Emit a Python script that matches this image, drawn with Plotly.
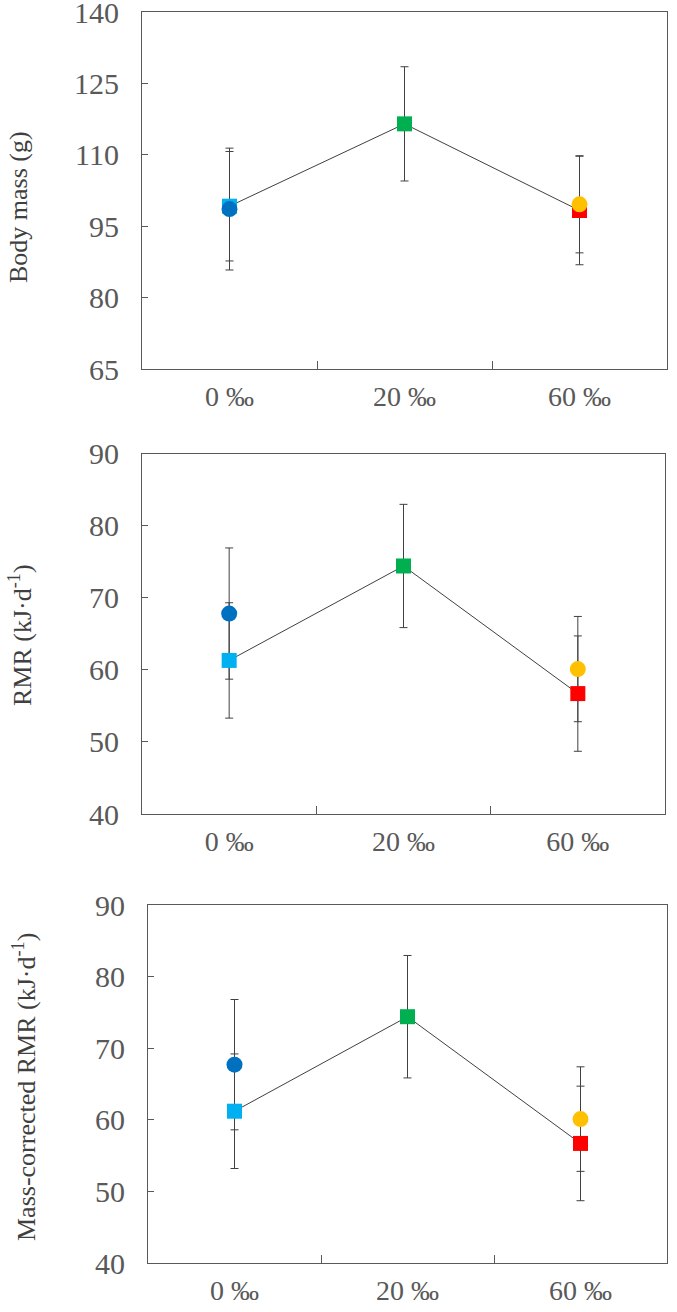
import plotly.graph_objects as go

groups = ["0 ‰", "20 ‰", "60 ‰"]
circle_groups = ["0 ‰", "60 ‰"]

# Panel 1: Body mass (g)
bm_sq_mean = [99.2, 116.5, 98.3]
bm_sq_err = [11.5, 12.0, 11.4]
bm_ci_mean = [98.6, 99.6]
bm_ci_err = [12.8, 10.2]

# Panel 2: RMR (kJ·d-1)
rmr_sq_mean = [61.3, 74.4, 56.7]
rmr_sq_err = [8.0, 8.55, 8.0]
rmr_ci_mean = [67.8, 60.1]
rmr_ci_err = [9.1, 7.3]

# Panel 3: Mass-corrected RMR (kJ·d-1)
mc_sq_mean = [61.2, 74.4, 56.7]
mc_sq_err = [8.0, 8.55, 8.0]
mc_ci_mean = [67.7, 60.1]
mc_ci_err = [9.1, 7.3]

sq_colors = ["#00B0F0", "#00B050", "#FF0000"]
ci_colors = ["#0070C0", "#FFC000"]

W, H = 677, 1312
FONT = "Liberation Serif, Times New Roman, serif"
AX = "#595959"

panels = [
    dict(sq=bm_sq_mean, sqe=bm_sq_err, ci=bm_ci_mean, cie=bm_ci_err,
         yr=[65, 140], dt=15, top=12, bot=369, left=142, right=667,
         title="Body mass (g)", tx=19, ty=207),
    dict(sq=rmr_sq_mean, sqe=rmr_sq_err, ci=rmr_ci_mean, cie=rmr_ci_err,
         yr=[40, 90], dt=10, top=453.5, bot=814, left=142, right=665,
         title="RMR (kJ·d<sup>-1</sup>)", tx=20, ty=635),
    dict(sq=mc_sq_mean, sqe=mc_sq_err, ci=mc_ci_mean, cie=mc_ci_err,
         yr=[40, 90], dt=10, top=905, bot=1263, left=148, right=667,
         title="Mass-corrected RMR (kJ·d<sup>-1</sup>)", tx=24, ty=1087),
]

fig = go.Figure()
layout = dict(width=W, height=H, margin=dict(l=0, r=0, t=0, b=0, autoexpand=False),
              paper_bgcolor="white", plot_bgcolor="white", showlegend=False,
              font=dict(family=FONT, color=AX))
annotations = []

for i, p in enumerate(panels):
    n = "" if i == 0 else str(i + 1)
    xa, ya = "x" + n, "y" + n
    # error bars (under everything)
    fig.add_trace(go.Scatter(
        x=groups + circle_groups, y=p["sq"] + p["ci"], mode="markers",
        marker=dict(size=1, color="rgba(0,0,0,0)"),
        error_y=dict(type="data", array=p["sqe"] + p["cie"], color="#404040",
                     thickness=1, width=4),
        xaxis=xa, yaxis=ya, hoverinfo="skip"))
    # connecting line
    fig.add_trace(go.Scatter(
        x=groups, y=p["sq"], mode="lines", line=dict(color="#404040", width=1),
        xaxis=xa, yaxis=ya))
    # square markers
    fig.add_trace(go.Scatter(
        x=groups, y=p["sq"], mode="markers",
        marker=dict(symbol="square", size=15, color=sq_colors, line=dict(width=0)),
        xaxis=xa, yaxis=ya))
    # circle markers
    fig.add_trace(go.Scatter(
        x=circle_groups, y=p["ci"], mode="markers",
        marker=dict(symbol="circle", size=16, color=ci_colors, line=dict(width=0)),
        xaxis=xa, yaxis=ya))

    layout["xaxis" + n] = dict(
        domain=[p["left"] / W, p["right"] / W], anchor=ya, automargin=False,
        type="category", categoryorder="array", categoryarray=groups,
        range=[-0.5, 2.5], tickson="boundaries", ticks="inside", ticklen=8,
        tickcolor=AX, showline=True, linecolor=AX, linewidth=1, mirror=True,
        showgrid=False, zeroline=False, ticklabelstandoff=2,
        ticklabeloverflow="allow",
        tickfont=dict(family=FONT, size=28, color=AX))
    layout["yaxis" + n] = dict(
        domain=[1 - p["bot"] / H, 1 - p["top"] / H], anchor=xa, automargin=False,
        range=p["yr"], dtick=p["dt"], tick0=p["yr"][0], ticks="inside", ticklen=6,
        tickcolor=AX, showline=True, linecolor=AX, linewidth=1, mirror=True,
        showgrid=False, zeroline=False, ticklabelstandoff=16,
        ticklabeloverflow="allow",
        tickfont=dict(family=FONT, size=30, color=AX))
    annotations.append(dict(
        text=p["title"], xref="paper", yref="paper", x=p["tx"] / W, y=1 - p["ty"] / H,
        xanchor="center", yanchor="middle", textangle=-90, showarrow=False,
        font=dict(family=FONT, size=26, color="#404040")))

layout["annotations"] = annotations
fig.update_layout(**layout)
fig.write_html("out.html", config={"displayModeBar": False},
               post_script="document.body.style.margin='0px';")
